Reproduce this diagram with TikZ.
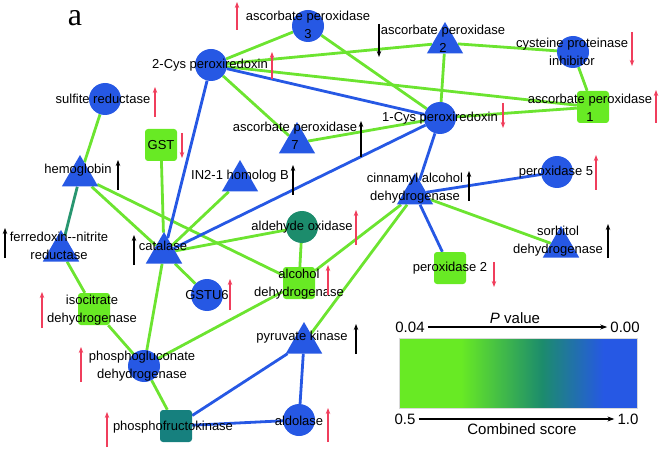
\documentclass[tikz,border=0pt]{standalone}
\usepackage{fontspec}
\setmainfont{Liberation Sans}
\newfontfamily\panelfont{Liberation Serif}
\usetikzlibrary{shapes.geometric,arrows.meta,backgrounds}

\definecolor{nblue}{RGB}{38,88,228}
\definecolor{ngreen}{RGB}{104,234,36}
\definecolor{egreen}{RGB}{108,228,48}
\definecolor{nteal}{RGB}{28,140,108}
\definecolor{sqteal}{RGB}{22,128,126}
\definecolor{eteal}{RGB}{40,150,112}
\definecolor{upred}{RGB}{240,62,92}
\pgfdeclarehorizontalshading{scoreshade}{100bp}{color(0bp)=(ngreen); color(38bp)=(ngreen); color(55bp)=(nteal); color(68bp)=(nblue); color(100bp)=(nblue)}

\begin{document}
\begin{tikzpicture}[x=1pt,y=-1pt,
		font=\fontsize{13}{17.5}\selectfont,
		circ/.style={circle, fill=nblue, minimum size=32pt, inner sep=0pt},
		tri/.style={regular polygon, regular polygon sides=3, fill=nblue, minimum size=42pt, inner sep=0pt},
		sq/.style={rectangle, rounded corners=3pt, fill=ngreen, minimum size=32pt, inner sep=0pt},
		lab/.style={align=center, inner sep=0pt},
		gedge/.style={draw=egreen, line width=2.8pt},
		bedge/.style={draw=nblue, line width=2.8pt},
		tedge/.style={draw=eteal, line width=2.8pt},
		redarr/.style={draw=upred, line width=1.1pt, -{Stealth[length=6pt,width=4.5pt]}},
		blkarr/.style={draw=black, line width=1.1pt, -{Stealth[length=6pt,width=4.5pt]}},
		legend/.style={font=\fontsize{15}{18}\selectfont, inner sep=3pt},
		legarr/.style={draw=black, line width=1.2pt, -{Stealth[length=7pt,width=5pt]}}
		]
	\useasboundingbox (0,0) rectangle (661,449);
	\node[font=\panelfont\fontsize{32}{32}\selectfont] (panel) at (75,18) {a};

	% proteins
	\node[circ] (sulf) at (105,99) {};
	\node[circ] (cys2) at (211,65) {};
	\node[circ] (apx3) at (308,26) {};
	\node[tri] (apx2) at (445,43) {};
	\node[circ] (cpi) at (573,52) {};
	\node[sq] (apx1) at (593,107) {};
	\node[circ] (cys1) at (440,118) {};
	\node[tri] (apx7) at (297,143) {};
	\node[sq] (gst) at (161,145) {};
	\node[tri] (in21) at (240,181) {};
	\node[tri] (hemo) at (80,176) {};
	\node[tri] (fnr) at (61,251) {};
	\node[tri] (cat) at (164,253) {};
	\node[circ, fill=nteal] (aldox) at (302,227) {};
	\node[tri] (cad) at (415,194) {};
	\node[circ] (pox5) at (557,172) {};
	\node[tri] (sdh) at (561,247) {};
	\node[sq] (pox2) at (450,268) {};
	\node[circ] (gstu) at (207,295) {};
	\node[sq] (adh) at (299,283) {};
	\node[sq] (idh) at (94,309) {};
	\node[circ] (pgd) at (144,366) {};
	\node[sq, fill=sqteal] (pfk) at (176,426) {};
	\node[tri] (pk) at (304,343) {};
	\node[circ] (ald) at (299,420) {};

	% names
	\node[lab] (sulf-t) at (103,99) {sulfite reductase};
	\node[lab] (cys2-t) at (210,65) {2-Cys peroxiredoxin};
	\node[lab] (apx3-t) at (308,25) {ascorbate peroxidase\\3};
	\node[lab] (apx2-t) at (443,39) {ascorbate peroxidase\\2};
	\node[lab] (cpi-t) at (572,52) {cysteine proteinase\\inhibitor};
	\node[lab] (apx1-t) at (590,108) {ascorbate peroxidase\\1};
	\node[lab] (cys1-t) at (440,118) {1-Cys peroxiredoxin};
	\node[lab] (apx7-t) at (295,136) {ascorbate peroxidase\\7};
	\node[lab] (gst-t) at (161,145) {GST};
	\node[lab] (in21-t) at (240,176) {IN2-1 homolog B};
	\node[lab] (hemo-t) at (78,170) {hemoglobin};
	\node[lab] (fnr-t) at (59,246) {ferredoxin-{}-nitrite\\reductase};
	\node[lab] (cat-t) at (163,246) {catalase};
	\node[lab] (aldox-t) at (302,227) {aldehyde oxidase};
	\node[lab] (cad-t) at (415,188) {cinnamyl alcohol\\dehydrogenase};
	\node[lab] (pox5-t) at (556,172) {peroxidase 5};
	\node[lab] (sdh-t) at (558,241) {sorbitol\\dehydrogenase};
	\node[lab] (pox2-t) at (450,268) {peroxidase 2};
	\node[lab] (gstu-t) at (207,295) {GSTU6};
	\node[lab] (adh-t) at (299,284) {alcohol\\dehydrogenase};
	\node[lab] (idh-t) at (92,310) {isocitrate\\dehydrogenase};
	\node[lab] (pgd-t) at (142,366) {phosphogluconate\\dehydrogenase};
	\node[lab] (pfk-t) at (173,427) {phosphofructokinase};
	\node[lab] (pk-t) at (302,337) {pyruvate kinase};
	\node[lab] (ald-t) at (299,421) {aldolase};

	% interactions
	\begin{pgfonlayer}{background}
		\draw[gedge] (sulf) -- (hemo);
		\draw[gedge] (hemo) -- (cat);
		\draw[gedge] (hemo) -- (adh);
		\draw[tedge] (hemo) -- (fnr);
		\draw[gedge] (fnr) -- (idh);
		\draw[gedge] (cys2) -- (apx3);
		\draw[gedge] (cys2) -- (apx2);
		\draw[gedge] (cys2) -- (apx1);
		\draw[gedge] (cys2) -- (apx7);
		\draw[bedge] (cys2) -- (cys1);
		\draw[bedge] (cys2) -- (cat);
		\draw[gedge] (apx3) -- (cys1);
		\draw[gedge] (apx2) -- (cpi);
		\draw[gedge] (apx2) -- (cys1);
		\draw[gedge] (cpi) -- (apx1);
		\draw[gedge] (cys1) -- (apx1);
		\draw[gedge] (apx7) -- (cys1);
		\draw[bedge] (cys1) -- (cat);
		\draw[bedge] (cys1) -- (cad);
		\draw[bedge] (cad) -- (pox5);
		\draw[bedge] (cad) -- (pox2);
		\draw[gedge] (cad) -- (sdh);
		\draw[gedge] (cad) -- (adh);
		\draw[gedge] (cad) -- (pk);
		\draw[gedge] (cat) -- (gst);
		\draw[gedge] (cat) -- (in21);
		\draw[gedge] (cat) -- (aldox);
		\draw[gedge] (cat) -- (gstu);
		\draw[gedge] (cat) -- (pgd);
		\draw[gedge] (aldox) -- (adh);
		\draw[gedge] (idh) -- (pgd);
		\draw[gedge] (pgd) -- (adh);
		\draw[gedge] (pgd) -- (pfk);
		\draw[bedge] (pfk) -- (pk);
		\draw[bedge] (pfk) -- (ald);
		\draw[bedge] (ald) -- (pk);
	\end{pgfonlayer}

	% up and down regulation
	\draw[redarr] (155,117) -- (155,87);
	\draw[redarr] (237,30) -- (237,2);
	\draw[redarr] (272,79) -- (272,52);
	\draw[blkarr] (379,24) -- (379,57);
	\draw[redarr] (632,32) -- (632,66);
	\draw[redarr] (656,123) -- (656,90);
	\draw[redarr] (503,103) -- (503,128);
	\draw[blkarr] (361,157) -- (361,121);
	\draw[redarr] (182,133) -- (182,158);
	\draw[blkarr] (293,195) -- (293,165);
	\draw[blkarr] (118,190) -- (118,160);
	\draw[blkarr] (5,258) -- (5,228);
	\draw[blkarr] (134,265) -- (134,235);
	\draw[redarr] (356,245) -- (356,210);
	\draw[blkarr] (469,201) -- (469,171);
	\draw[redarr] (596,190) -- (596,155);
	\draw[blkarr] (608,258) -- (608,224);
	\draw[redarr] (494,262) -- (494,287);
	\draw[redarr] (230,310) -- (230,279);
	\draw[redarr] (328,295) -- (328,265);
	\draw[redarr] (42,328) -- (42,292);
	\draw[redarr] (81,382) -- (81,347);
	\draw[redarr] (107,447) -- (107,412);
	\draw[blkarr] (356,354) -- (356,324);
	\draw[redarr] (328,442) -- (328,408);

	% legend
	\node[legend] (pval) at (515,318) {\textit{P} value};
	\node[legend] (p04) at (410,327) {0.04};
	\node[legend] (p00) at (625,327) {0.00};
	\draw[legarr] (p04) -- (p00);
	\node[minimum width=238pt, minimum height=70pt, shading=scoreshade, draw=black!15, line width=0.4pt] (bar) at (518,373) {};
	\node[legend] (s05) at (405,419) {0.5};
	\node[legend] (s10) at (628,419) {1.0};
	\draw[legarr] (s05) -- (s10);
	\node[legend] (score) at (522,429) {Combined score};
\end{tikzpicture}
\end{document}
